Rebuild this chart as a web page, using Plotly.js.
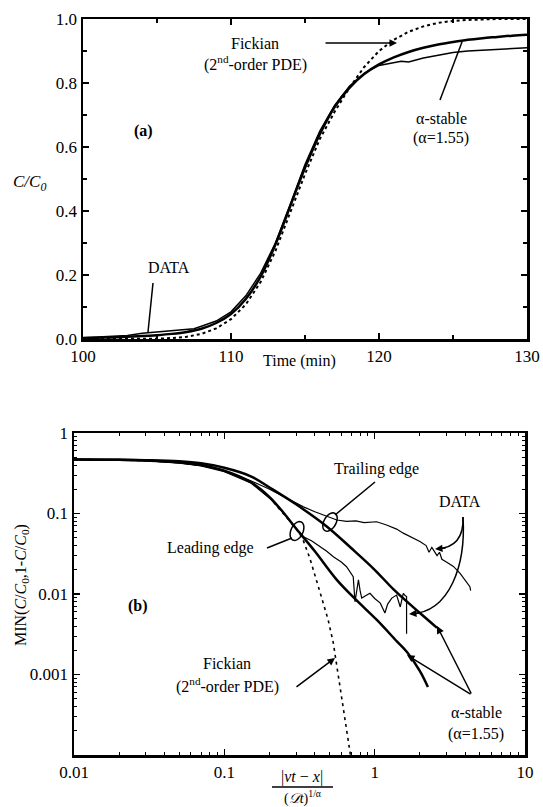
<!DOCTYPE html>
<html>
<head>
<meta charset="utf-8">
<script src="https://cdn.plot.ly/plotly-3.0.1.min.js"></script>
<style>html,body{margin:0;padding:0;background:#fff;}</style>
</head>
<body>
<div id="chart" style="width:543px;height:807px;"></div>
<script>
// ---------- Panel (a) data ----------
const timeAlpha = [100,101,102,103,104,105,106,107,108,109,110,111,112,113,114,115,116,117,118,119,120,121,122,123,124,125,126,127,128,129,130];
const alphaTop  = [0.003,0.004,0.005,0.007,0.009,0.012,0.016,0.022,0.032,0.05,0.078,0.125,0.195,0.295,0.415,0.535,0.64,0.725,0.785,0.828,0.858,0.88,0.897,0.91,0.92,0.928,0.935,0.94,0.944,0.948,0.951];

const timeData = [100,101,102,103,104,104.5,105,106,106.5,107,107.5,108,109,110,111,112,113,114,115,116,117,118,118.5,119,120,121,121.5,122,122.5,123,124,125,126,127,128,129,130];
const dataTop  = [0.004,0.006,0.008,0.011,0.018,0.02,0.021,0.024,0.027,0.028,0.032,0.04,0.056,0.085,0.135,0.205,0.3,0.42,0.545,0.65,0.73,0.79,0.81,0.83,0.855,0.865,0.868,0.866,0.872,0.878,0.887,0.895,0.9,0.903,0.905,0.907,0.91];

const timeFick = [100,101,102,103,104,105,106,107,108,109,110,111,112,113,114,115,116,117,118,119,120,121,122,123,124,125,126,127,128,129,130];
const fickTop  = [0,0,0,0,0.0005,0.001,0.003,0.007,0.016,0.033,0.062,0.108,0.178,0.275,0.395,0.515,0.625,0.71,0.785,0.85,0.9,0.935,0.96,0.977,0.988,0.994,0.997,0.999,1,1,1];

// ---------- Panel (b) data ----------
const xLead = [0.01,0.02,0.03,0.05,0.07,0.1,0.15,0.2,0.25,0.3,0.4,0.56,0.75,1.03,1.4,1.64,2.0,2.26];
const yLead = [0.47,0.465,0.455,0.43,0.40,0.34,0.245,0.16,0.1,0.065,0.034,0.015,0.0085,0.0048,0.0026,0.0019,0.0011,0.0007];

const xTrail = [0.01,0.02,0.03,0.05,0.07,0.1,0.15,0.2,0.3,0.48,0.7,1.0,1.33,2.0,2.6];
const yTrail = [0.47,0.466,0.46,0.445,0.42,0.37,0.29,0.21,0.13,0.069,0.037,0.02,0.0115,0.0058,0.0038];

const xFick = [0.01,0.02,0.03,0.05,0.07,0.1,0.15,0.2,0.25,0.3,0.33,0.37,0.43,0.49,0.53,0.56,0.62,0.68,0.69];
const yFick = [0.47,0.465,0.455,0.43,0.40,0.34,0.245,0.158,0.098,0.065,0.05,0.028,0.011,0.0048,0.0025,0.00125,0.0004,0.000115,0.0001];

const xDataTrail = [0.01,0.02,0.03,0.05,0.07,0.1,0.15,0.2,0.25,0.3,0.336,0.4,0.49,0.56,0.65,0.75,0.85,1.03,1.2,1.4,1.55,1.8,2.0,2.2,2.3,2.4,2.46,2.6,2.7,2.8,3.0,3.34,3.7,4.0,4.3,4.35];
const yDataTrail = [0.47,0.462,0.452,0.425,0.395,0.34,0.255,0.2,0.16,0.135,0.121,0.105,0.09,0.083,0.08,0.081,0.077,0.079,0.072,0.064,0.057,0.05,0.045,0.04,0.033,0.038,0.035,0.03,0.033,0.027,0.025,0.022,0.018,0.015,0.0123,0.011];

const xDataLead = [0.01,0.02,0.03,0.05,0.07,0.1,0.15,0.2,0.25,0.3,0.336,0.38,0.434,0.48,0.531,0.6,0.65,0.72,0.74,0.76,0.78,0.8,0.82,0.87,0.93,1.0,1.09,1.17,1.22,1.3,1.4,1.48,1.55,1.6,1.63,1.63];
const yDataLead = [0.47,0.463,0.452,0.425,0.39,0.33,0.24,0.155,0.1,0.065,0.0515,0.046,0.0387,0.034,0.029,0.025,0.0218,0.0164,0.008,0.012,0.015,0.011,0.0089,0.0095,0.0102,0.0088,0.0077,0.0058,0.0075,0.0089,0.0097,0.0069,0.0102,0.0095,0.0093,0.0032];

// tick labels
const xTicksA = [100,110,120,130];
const yTicksA = [0,0.2,0.4,0.6,0.8,1.0];
const yTickTextA = ['0.0','0.2','0.4','0.6','0.8','1.0'];
const xTicksB = [0.01,0.1,1,10];
const xTickTextB = ['0.01','0.1','1','10'];
const yTicksB = [0.001,0.01,0.1,1];
const yTickTextB = ['0.001','0.01','0.1','1'];

// ---------- layout helpers ----------
const L = 74, R = 527, T = 19, B = 755;
function px(x){ return (x - L) / (R - L); }
function py(y){ return (B - y) / (B - T); }
const FONT = '"Liberation Serif", serif';

function logMinor(lo, hi){
  const v = [];
  for (let e = lo; e < hi; e++) for (let d = 2; d <= 9; d++) v.push(d * Math.pow(10, e));
  return v;
}
function ellipsePath(cx, cy, rx, ry, rot){
  const a = rot * Math.PI / 180; let s = '';
  for (let i = 0; i <= 36; i++){
    const t = i / 36 * 2 * Math.PI;
    const ex = rx * Math.cos(t), ey = ry * Math.sin(t);
    const X = cx + ex * Math.cos(a) - ey * Math.sin(a);
    const Y = cy + ex * Math.sin(a) + ey * Math.cos(a);
    s += (i === 0 ? 'M' : 'L') + px(X).toFixed(5) + ',' + py(Y).toFixed(5);
  }
  return s + 'Z';
}
function lineShape(x0, y0, x1, y1){
  return {type:'line', xref:'paper', yref:'paper', x0:px(x0), y0:py(y0), x1:px(x1), y1:py(y1), line:{color:'black', width:1.5}};
}
function txt(x, y, text, extra){
  return Object.assign({xref:'paper', yref:'paper', x:px(x), y:py(y), text:text, showarrow:false,
    xanchor:'center', yanchor:'middle', font:{family:FONT, size:16, color:'black'}}, extra || {});
}
function arrow(hx, hy, tx, ty){
  return {xref:'paper', yref:'paper', x:px(hx), y:py(hy), ax:tx - hx, ay:ty - hy, axref:'pixel', ayref:'pixel',
    text:'', showarrow:true, arrowhead:2, arrowsize:1, arrowwidth:1.5, arrowcolor:'black'};
}

const traces = [
  {x: timeFick, y: fickTop, xaxis:'x', yaxis:'y', mode:'lines', line:{color:'black', width:2, dash:'dot'}},
  {x: timeData, y: dataTop, xaxis:'x', yaxis:'y', mode:'lines', line:{color:'black', width:1.5}},
  {x: timeAlpha, y: alphaTop, xaxis:'x', yaxis:'y', mode:'lines', line:{color:'black', width:2.5, shape:'spline'}},
  {x: xFick, y: yFick, xaxis:'x2', yaxis:'y2', mode:'lines', line:{color:'black', width:1.6, dash:'3px,4px'}},
  {x: xDataTrail, y: yDataTrail, xaxis:'x2', yaxis:'y2', mode:'lines', line:{color:'black', width:1.2}},
  {x: xDataLead, y: yDataLead, xaxis:'x2', yaxis:'y2', mode:'lines', line:{color:'black', width:1.2}},
  {x: xTrail, y: yTrail, xaxis:'x2', yaxis:'y2', mode:'lines', line:{color:'black', width:2.5, shape:'spline'}},
  {x: xLead, y: yLead, xaxis:'x2', yaxis:'y2', mode:'lines', line:{color:'black', width:2.5, shape:'spline'}}
];

const axisCommon = {
  showline:true, linecolor:'black', linewidth:2.5, mirror:'allticks', ticks:'inside', ticklen:6, tickwidth:1.5,
  tickcolor:'black', showgrid:false, zeroline:false, tickfont:{family:FONT, size:17, color:'black'}
};

const layout = {
  width:543, height:807, paper_bgcolor:'white', plot_bgcolor:'white', showlegend:false,
  font:{family:FONT, size:16, color:'black'},
  margin:{l:L, r:543 - R, t:T, b:807 - B},
  xaxis: Object.assign({}, axisCommon, {domain:[px(83), 1], range:[100,130], anchor:'y',
    tickmode:'array', tickvals:xTicksA, minor:{tickvals:[105,115,125], ticks:'inside', ticklen:4, tickwidth:1.2, tickcolor:'black'}}),
  yaxis: Object.assign({}, axisCommon, {domain:[py(339), 1], range:[0,1], anchor:'x',
    tickmode:'array', tickvals:yTicksA, ticktext:yTickTextA, minor:{tickvals:[0.1,0.3,0.5,0.7,0.9], ticks:'inside', ticklen:4, tickwidth:1.2, tickcolor:'black'}}),
  xaxis2: Object.assign({}, axisCommon, {domain:[0, px(525)], type:'log', range:[-2,1], anchor:'y2',
    tickmode:'array', tickvals:xTicksB, ticktext:xTickTextB, minor:{tickvals:logMinor(-2,1), ticks:'inside', ticklen:3, tickwidth:1, tickcolor:'black'}}),
  yaxis2: Object.assign({}, axisCommon, {domain:[0, py(433)], type:'log', range:[-4,0], anchor:'x2',
    tickmode:'array', tickvals:yTicksB, ticktext:yTickTextB, minor:{tickvals:logMinor(-4,0), ticks:'inside', ticklen:3, tickwidth:1, tickcolor:'black'}}),
  shapes: [
    lineShape(153,283,148,332),
    lineShape(440,100,462,42),
    lineShape(375,482,335,515),
    lineShape(267,548,292,538),
    lineShape(272,787,333,787),
    {type:'path', xref:'paper', yref:'paper', path:ellipsePath(330,522,6,10,30), line:{color:'black', width:1.5}},
    {type:'path', xref:'paper', yref:'paper', path:ellipsePath(297,531,6,10,25), line:{color:'black', width:1.5}},
    {type:'path', xref:'paper', yref:'paper',
      path:'M'+px(463)+','+py(517)+' C'+px(464)+','+py(540)+' '+px(452)+','+py(548)+' '+px(437)+','+py(549), line:{color:'black', width:1.5}},
    {type:'path', xref:'paper', yref:'paper',
      path:'M'+px(463)+','+py(517)+' C'+px(466)+','+py(565)+' '+px(450)+','+py(612)+' '+px(411)+','+py(614), line:{color:'black', width:1.5}}
  ],
  annotations: [
    txt(255,43,'Fickian'),
    txt(255,63,'(2<sup>nd</sup>-order PDE)'),
    arrow(397,43,324,43),
    txt(441,118,'α-stable'),
    txt(441,138,'(α=1.55)'),
    txt(143,131,'<b>(a)</b>'),
    txt(169,267,'DATA'),
    txt(29,183,'<i>C/C<sub>0</sub></i>', {font:{family:FONT, size:17, color:'black'}}),
    txt(299,361,'Time (min)'),
    txt(376,469,'Trailing edge'),
    txt(210,548,'Leading edge'),
    txt(460,501,'DATA'),
    arrow(435,549,447,548),
    arrow(409,614,421,613),
    txt(476,712,'α-stable'),
    txt(476,734,'(α=1.55)'),
    arrow(437,626,472,695),
    arrow(407,655,472,695),
    txt(227,663,'Fickian'),
    txt(227,685,'(2<sup>nd</sup>-order PDE)'),
    arrow(335,658,295,688),
    txt(138,606,'<b>(b)</b>'),
    txt(21,585,'MIN(<i>C</i>/<i>C</i><sub>0</sub>,1-<i>C</i>/<i>C</i><sub>0</sub>)', {textangle:-90}),
    txt(302,777,'|<i>vt</i> − <i>x</i>|'),
    txt(302,797,'(<i>𝒟t</i>)<sup>1/α</sup>', {font:{family:FONT, size:14, color:'black'}})
  ]
};

Plotly.newPlot('chart', traces, layout, {staticPlot:true, displayModeBar:false});
</script>
</body>
</html>
